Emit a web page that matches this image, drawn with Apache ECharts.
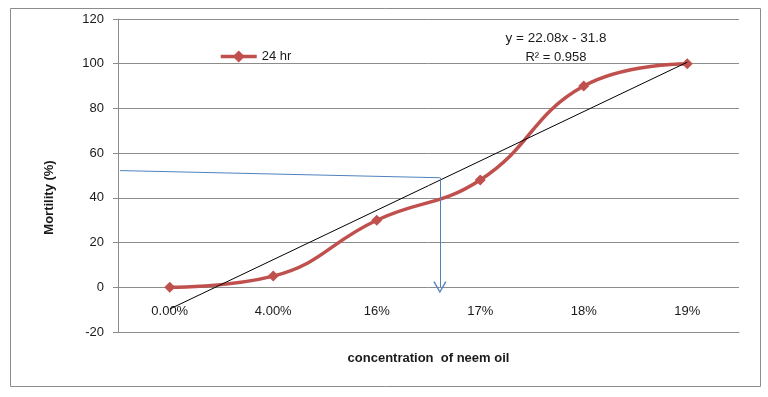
<!DOCTYPE html>
<html>
<head>
<meta charset="utf-8">
<script src="https://cdn.jsdelivr.net/npm/echarts@6/dist/echarts.min.js"></script>
<style>
  html, body { margin: 0; padding: 0; background: #fff; }
  #chart { width: 768px; height: 397px; }
</style>
</head>
<body>
<div id="chart"></div>
<script>
// concentration categories and mortality (%) after 24 hr
const categories = ['0.00%', '4.00%', '16%', '17%', '18%', '19%'];
const mortality = [0, 5, 30, 48, 90, 100];

// linear trendline y = 22.08x - 31.8, x = 1..6 (category position + 1)
const slope = 22.08;
const intercept = -31.8;
const rSquared = 0.958;

// guide line: from ~52% on the y axis over to the trend, then down to 0
const guideStart = [-0.48, 52.2];
const guideCorner = [2.61, 49];
const guideEnd = [2.61, 0];

const yTicks = { min: -20, max: 120, step: 20 };

const trendData = [0, categories.length - 1].map(function (i) {
  return [i, slope * (i + 1) + intercept];
});

const font = 'Liberation Sans, Arial, sans-serif';
const chart = echarts.init(document.getElementById('chart'));

chart.setOption({
  animation: false,
  textStyle: { fontFamily: font, color: '#1a1a1a' },
  grid: { left: 118, right: 29, top: 19, bottom: 65, containLabel: false, outerBoundsMode: 'none' },
  legend: {
    left: 214,
    top: 45,
    itemWidth: 36,
    itemHeight: 15,
    itemGap: 4,
    data: ['24 hr'],
    lineStyle: { width: 3.5 },
    textStyle: { fontSize: 13, color: '#1a1a1a', fontFamily: font }
  },
  xAxis: [
    {
      type: 'category',
      data: categories,
      boundaryGap: true,
      // labels sit just under the 0 line, as in the source chart
      axisLine: { onZero: false, lineStyle: { color: '#8c8c8c' } },
      axisTick: { show: false },
      axisLabel: { fontSize: 13, color: '#1a1a1a', margin: -27 },
      name: 'concentration  of neem oil',
      nameLocation: 'middle',
      nameGap: 20,
      nameTextStyle: { fontSize: 13, fontWeight: 'bold', color: '#1a1a1a' }
    },
    {
      type: 'value',
      min: -0.5,
      max: categories.length - 0.5,
      axisLine: { onZero: false },
      show: false
    }
  ],
  yAxis: {
    type: 'value',
    min: yTicks.min,
    max: yTicks.max,
    interval: yTicks.step,
    axisLine: { show: true, onZero: false, lineStyle: { color: '#8c8c8c' } },
    axisTick: { show: true, length: 5, lineStyle: { color: '#8c8c8c' } },
    axisLabel: { fontSize: 13, color: '#1a1a1a', margin: 14 },
    splitLine: { lineStyle: { color: '#8c8c8c', width: 1 } },
    name: 'Mortility (%)',
    nameLocation: 'middle',
    nameGap: 62,
    nameTextStyle: { fontSize: 13, fontWeight: 'bold', color: '#1a1a1a', padding: [0, 44, 0, 0] }
  },
  graphic: [
    {
      type: 'rect',
      shape: { x: 10.5, y: 8.5, width: 750, height: 378 },
      style: { fill: 'none', stroke: '#8c8c8c', lineWidth: 1 },
      silent: true
    },
    {
      type: 'text',
      x: 556,
      y: 31,
      style: { text: 'y = 22.08x - 31.8', font: '13.5px ' + font, fill: '#1a1a1a', align: 'center' }
    },
    {
      type: 'text',
      x: 556,
      y: 51,
      style: { text: 'R² = ' + rSquared, font: '13px ' + font, fill: '#1a1a1a', align: 'center' }
    }
  ],
  series: [
    {
      name: '24 hr',
      type: 'line',
      data: mortality,
      smooth: 0.45,
      symbol: 'diamond',
      symbolSize: 11,
      lineStyle: { color: '#C0504D', width: 3.5 },
      itemStyle: { color: '#C0504D' },
      z: 3
    },
    {
      name: 'trend',
      type: 'line',
      xAxisIndex: 1,
      data: trendData,
      symbol: 'none',
      lineStyle: { color: '#000', width: 1 },
      z: 4
    },
    {
      name: 'guide',
      type: 'line',
      xAxisIndex: 1,
      data: [],
      markLine: {
        silent: true,
        symbol: ['none', 'none'],
        label: { show: false },
        lineStyle: { color: '#4F81BD', width: 1, type: 'solid' },
        data: [
          [{ coord: guideStart }, { coord: guideCorner }],
          [
            { coord: guideCorner },
            {
              coord: guideEnd,
              symbol: 'path://M5,0 L10,10 L9.1,10.6 L5,2.2 L0.9,10.6 L0,10 Z',
              symbolSize: [13, 12]
            }
          ]
        ]
      },
      z: 2
    }
  ]
});
</script>
</body>
</html>
